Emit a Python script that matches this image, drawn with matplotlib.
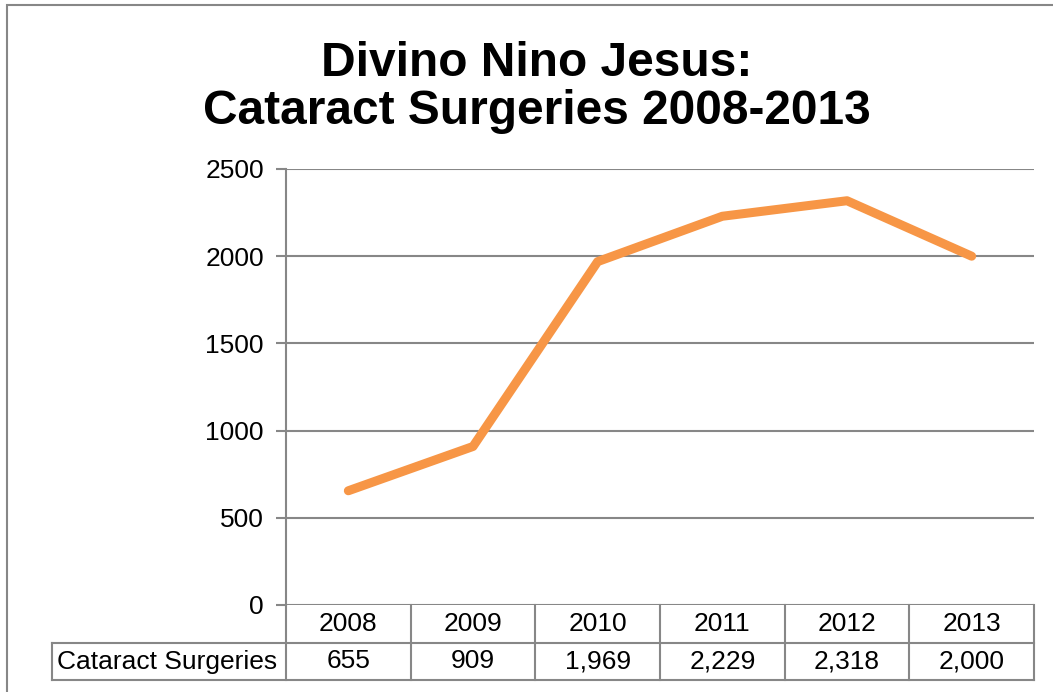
import matplotlib
matplotlib.use("Agg")
import matplotlib.pyplot as plt
import matplotlib.transforms as mtransforms
from matplotlib.patches import Rectangle

plt.rcParams['font.family'] = ['Liberation Sans', 'DejaVu Sans']

# data
years = ["2008", "2009", "2010", "2011", "2012", "2013"]
surgeries = [655, 909, 1969, 2229, 2318, 2000]
series_name = "Cataract Surgeries"
title = "Divino Nino Jesus:\nCataract Surgeries 2008-2013"

grid_col = "#878787"
line_col = "#F79646"
fs = 19

fig = plt.figure(figsize=(10.53, 6.92), dpi=100)

# outer chart border (runs off right/bottom edge like the screenshot)
fig.patches.append(Rectangle((7 / 1053, -0.05), 1.2, 1 - 5 / 692 + 0.05,
                             transform=fig.transFigure, fill=False,
                             edgecolor=grid_col, linewidth=1.5))

ax = fig.add_axes([286 / 1053, 1 - 605 / 692, (1034 - 286) / 1053, (605 - 169) / 692])

x = [i + 0.5 for i in range(len(years))]
ax.plot(x, surgeries, color=line_col, linewidth=6.5, solid_capstyle="round",
        solid_joinstyle="round", zorder=3)

ax.set_xlim(0, len(years))
ax.set_ylim(0, 2500)
ax.set_yticks(range(0, 2501, 500))
ax.set_xticks([])
ax.yaxis.grid(True, color=grid_col, linewidth=1.5)
ax.set_axisbelow(True)
for s in ["top", "right", "bottom"]:
    ax.spines[s].set_visible(False)
ax.spines["left"].set_color(grid_col)
ax.spines["left"].set_linewidth(1.5)
ax.tick_params(axis="y", length=7, width=1.5, color=grid_col, pad=9,
               labelsize=fs, labelcolor="black")

fig.suptitle(title, fontsize=34.5, fontweight="bold", y=0.941, x=0.51,
             va="top", linespacing=1.1)

# data table under the axis
tr = mtransforms.blended_transform_factory(ax.transData, ax.transAxes)
row1 = -38 / 436
row2 = -75 / 436
label_left = -234 / ((1034 - 286) / 6)
kw = dict(transform=tr, color=grid_col, linewidth=1.5, clip_on=False)
ax.plot([label_left, len(years)], [row1, row1], **kw)
ax.plot([label_left, len(years)], [row2, row2], **kw)
ax.plot([label_left, label_left], [row1, row2], **kw)
ax.plot([0, 0], [0, row2], **kw)
for i in range(1, len(years) + 1):
    ax.plot([i, i], [0, row2], **kw)

for xi, yr, v in zip(x, years, surgeries):
    ax.text(xi, row1 / 2, yr, transform=tr, ha="center", va="center",
            fontsize=fs)
    ax.text(xi, (row1 + row2) / 2, f"{v:,}", transform=tr, ha="center",
            va="center", fontsize=fs)
ax.text(label_left + 0.04, (row1 + row2) / 2, series_name, transform=tr,
        ha="left", va="center", fontsize=fs)

fig.savefig("out.png", dpi=100)
